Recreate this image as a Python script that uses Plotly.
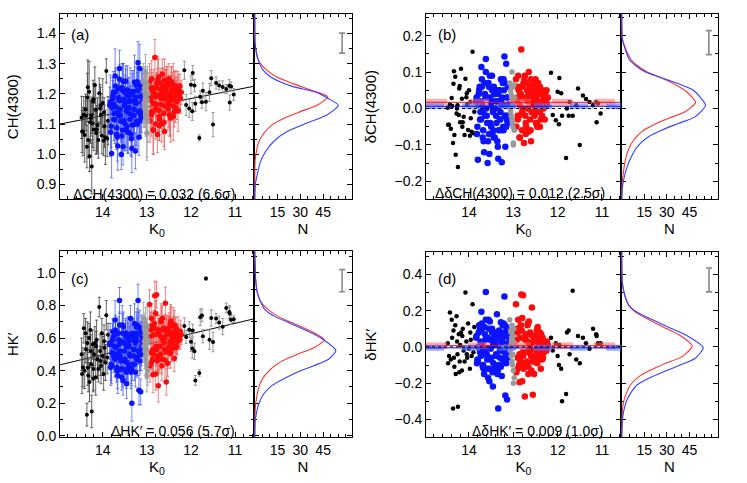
import plotly.graph_objects as go

W, H = 747, 483
FONT = "Arial, 'Liberation Sans', Helvetica, sans-serif"

# ---------------- stars: K0 and the four indices ----------------
BLK_L_K0 = [14.48, 14.45, 14.43, 14.41, 14.38, 14.36, 14.35, 14.33, 14.31, 14.30,
            14.28, 14.26, 14.25, 14.23, 14.21, 14.20, 14.18, 14.16, 14.15, 14.12,
            14.10, 14.08, 14.06, 14.04, 14.02, 14.00, 13.98, 13.96, 13.94, 13.92,
            13.90, 13.88, 14.47, 14.39, 14.34, 14.27, 14.22, 14.14, 14.05, 13.97]
BLK_L_CH = [1.122, 1.075, 1.131, 1.064, 1.127, 1.025, 1.188, 1.047, 1.207, 0.993,
            1.106, 1.129, 0.959, 1.102, 1.182, 1.082, 1.229, 1.147, 1.070, 1.097,
            1.047, 1.202, 1.151, 1.131, 1.061, 1.170, 1.045, 1.093, 1.056, 1.276,
            1.052, 1.111, 1.075, 1.149, 1.222, 1.120, 1.175, 1.082, 1.162, 1.138]
BLK_L_CH_ERR = [0.07, 0.08, 0.06, 0.09, 0.05, 0.07, 0.08, 0.06, 0.10, 0.05,
                0.07, 0.06, 0.09, 0.08, 0.05, 0.07, 0.06, 0.08, 0.07, 0.09,
                0.06, 0.05, 0.08, 0.07, 0.06, 0.08, 0.05, 0.07, 0.09, 0.04,
                0.06, 0.08, 0.07, 0.05, 0.09, 0.06, 0.07, 0.08, 0.06, 0.05]
BLK_L_DCH = [0.002, -0.045, 0.011, -0.056, 0.007, -0.095, 0.068, -0.073, 0.087, -0.127,
             -0.014, 0.009, -0.161, -0.018, 0.062, -0.038, 0.109, 0.027, -0.050, -0.023,
             -0.073, 0.082, 0.031, 0.011, -0.059, 0.050, -0.075, -0.027, -0.064, 0.156,
             -0.068, -0.009, -0.045, 0.029, 0.102, 0.000, 0.055, -0.038, 0.042, 0.018]
BLK_L_HK = [0.50, 0.42, 0.66, 0.40, 0.53, 0.13, 0.57, 0.37, 0.60, 0.33,
            0.65, 0.44, 0.15, 0.56, 0.41, 0.50, 0.57, 0.36, 0.55, 0.47,
            0.41, 0.79, 0.52, 0.43, 0.63, 0.49, 0.38, 0.54, 0.45, 0.74,
            0.48, 0.62, 0.38, 0.63, 0.42, 0.52, 0.35, 0.59, 0.46, 0.58]
BLK_L_HK_ERR = [0.10, 0.12, 0.09, 0.11, 0.08, 0.07, 0.13, 0.10, 0.09, 0.12,
                0.11, 0.08, 0.10, 0.09, 0.13, 0.07, 0.10, 0.11, 0.09, 0.12,
                0.08, 0.06, 0.10, 0.11, 0.09, 0.12, 0.10, 0.08, 0.11, 0.09,
                0.10, 0.07, 0.12, 0.09, 0.11, 0.10, 0.08, 0.12, 0.09, 0.10]
BLK_L_DHK = [0.02, -0.05, 0.19, -0.07, 0.05, -0.34, 0.09, -0.11, 0.12, -0.15,
             0.17, -0.04, -0.33, 0.07, -0.08, 0.01, 0.08, -0.13, 0.06, -0.02,
             -0.08, 0.30, 0.03, -0.06, 0.13, -0.01, -0.12, 0.04, -0.05, 0.236,
             -0.03, 0.11, -0.09, 0.15, -0.06, 0.03, -0.14, 0.10, -0.04, 0.08]

BLK_R_K0 = [12.15, 11.96, 12.00, 11.92, 12.11, 12.04, 11.90, 11.97, 11.81, 11.75, 11.66, 11.54,
            11.50, 11.43, 11.36, 11.28, 11.20, 11.13, 11.09, 11.03, 11.12, 11.58, 11.79, 11.73]
BLK_R_CH = [1.278, 1.269, 1.230, 1.228, 1.163, 1.151, 1.167, 1.142, 1.054, 1.172, 1.174, 1.252,
            1.098, 1.236, 1.228, 1.223, 1.216, 1.227, 1.224, 1.198, 1.171, 1.205, 1.190, 1.210]
BLK_R_CH_ERR = [0.03, 0.025, 0.03, 0.02, 0.035, 0.03, 0.025, 0.03, 0.01, 0.02, 0.03, 0.025,
                0.04, 0.02, 0.015, 0.02, 0.015, 0.02, 0.015, 0.02, 0.025, 0.03, 0.02, 0.025]
BLK_R_DCH = [0.098, 0.084, 0.046, 0.042, -0.018, -0.032, -0.020, -0.043, -0.136, -0.020, -0.020, 0.055,
             -0.100, 0.036, 0.026, 0.018, 0.009, 0.018, 0.014, -0.014, -0.038, 0.009, 0.000, 0.018]
BLK_R_HK = [0.674, 0.646, 0.578, 0.519, 0.606, 0.651, 0.340, 0.536, 0.386, 0.739, 0.965, 0.723,
            0.576, 0.720, 0.695, 0.670, 0.785, 0.760, 0.712, 0.716, 0.750, 0.590, 0.727, 0.611]
BLK_R_HK_ERR = [0.05, 0.04, 0.06, 0.05, 0.04, 0.05, 0.03, 0.06, 0.02, 0.04, 0.01, 0.05,
                0.06, 0.03, 0.04, 0.05, 0.03, 0.04, 0.03, 0.02, 0.04, 0.06, 0.05, 0.04]
BLK_R_DHK = [0.05, 0.01, -0.05, -0.12, -0.02, 0.02, -0.30, -0.10, -0.26, 0.09, 0.31, 0.06,
             -0.09, 0.05, 0.02, -0.01, 0.10, 0.07, 0.02, 0.02, 0.06, -0.07, 0.08, -0.04]

BLUE_K0 = [13.84, 13.80, 13.77, 13.75, 13.72, 13.70, 13.68, 13.66, 13.64, 13.62,
           13.60, 13.58, 13.56, 13.54, 13.52, 13.50, 13.48, 13.46, 13.44, 13.42,
           13.40, 13.38, 13.36, 13.34, 13.32, 13.30, 13.28, 13.26, 13.24, 13.22,
           13.20, 13.18, 13.16, 13.14, 13.12, 13.10, 13.82, 13.78, 13.74, 13.71,
           13.67, 13.63, 13.59, 13.55, 13.51, 13.47, 13.43, 13.39, 13.35, 13.31,
           13.27, 13.23, 13.19, 13.15, 13.11, 13.83, 13.76, 13.69, 13.61, 13.53,
           13.45, 13.37, 13.29, 13.21, 13.13, 13.79, 13.73, 13.65, 13.57, 13.49,
           13.41, 13.33, 13.25, 13.17, 13.12, 13.81, 13.74, 13.62, 13.55, 13.46,
           13.38, 13.30, 13.22, 13.16, 13.68, 13.58, 13.44, 13.34, 13.26, 13.19,
           13.71, 13.52, 13.40, 13.28, 13.14, 13.64, 13.48, 13.36, 13.24, 13.11]
BLUE_CH = [1.162, 1.002, 1.194, 1.115, 1.259, 1.156, 1.087, 1.027, 1.188, 1.284,
           1.129, 0.999, 1.220, 1.025, 1.181, 1.101, 1.242, 1.142, 1.213, 1.073,
           1.155, 1.116, 1.176, 1.019, 1.207, 1.128, 1.238, 1.011, 1.169, 1.100,
           1.303, 1.056, 1.284, 1.192, 1.142, 1.223, 1.073, 1.184, 1.135, 1.226,
           1.057, 1.178, 1.109, 1.210, 1.161, 1.082, 1.193, 1.135, 1.051, 1.207,
           1.178, 1.109, 1.230, 1.132, 1.173, 1.172, 1.204, 1.066, 1.149, 1.241,
           1.093, 1.176, 1.148, 1.210, 1.122, 1.154, 1.115, 1.218, 1.060, 1.172,
           1.194, 1.097, 1.189, 1.141, 1.222, 1.093, 1.165, 1.248, 1.080, 1.152,
           1.206, 1.128, 1.240, 1.111, 1.137, 1.179, 1.073, 1.197, 1.169, 1.140,
           1.206, 1.111, 1.175, 1.098, 1.192, 1.128, 1.202, 1.066, 1.229, 1.173]
BLUE_CH_ERR = [0.06, 0.08, 0.05, 0.07, 0.09, 0.06, 0.05, 0.08, 0.07, 0.06,
               0.07, 0.05, 0.08, 0.06, 0.07, 0.09, 0.05, 0.06, 0.08, 0.07,
               0.06, 0.07, 0.05, 0.08, 0.06, 0.07, 0.09, 0.06, 0.05, 0.08,
               0.07, 0.06, 0.08, 0.05, 0.07, 0.06, 0.08, 0.07, 0.05, 0.06,
               0.08, 0.06, 0.07, 0.09, 0.05, 0.07, 0.06, 0.08, 0.06, 0.07,
               0.05, 0.08, 0.06, 0.07, 0.06, 0.09, 0.07, 0.05, 0.08, 0.06,
               0.07, 0.05, 0.08, 0.06, 0.07, 0.06, 0.08, 0.07, 0.05, 0.09,
               0.06, 0.07, 0.05, 0.08, 0.06, 0.07, 0.06, 0.05, 0.08, 0.07,
               0.08, 0.06, 0.07, 0.05, 0.09, 0.06, 0.07, 0.08, 0.06, 0.05,
               0.07, 0.08, 0.06, 0.07, 0.05, 0.06, 0.08, 0.07, 0.06, 0.07]
BLUE_DCH = [0.02, -0.141, 0.05, -0.03, 0.114, 0.01, -0.06, -0.12, 0.04, 0.136,
            -0.02, -0.15, 0.07, -0.125, 0.03, -0.05, 0.09, -0.01, 0.06, -0.08,
            0.00, -0.04, 0.02, -0.138, 0.05, -0.03, 0.08, -0.148, 0.01, -0.06,
            0.143, -0.105, 0.123, 0.03, -0.02, 0.06, -0.07, 0.04, -0.01, 0.08,
            -0.09, 0.03, -0.04, 0.06, 0.01, -0.07, 0.04, -0.02, -0.105, 0.05,
            0.02, -0.05, 0.07, -0.03, 0.01, 0.03, 0.06, -0.08, 0.00, 0.09,
            -0.06, 0.02, -0.01, 0.05, -0.04, 0.01, -0.03, 0.07, -0.09, 0.02,
            0.04, -0.06, 0.03, -0.02, 0.06, -0.05, 0.02, 0.10, -0.07, 0.00,
            0.05, -0.03, 0.08, -0.05, -0.01, 0.03, -0.08, 0.04, 0.01, -0.02,
            0.06, -0.04, 0.02, -0.06, 0.03, -0.02, 0.05, -0.09, 0.07, 0.01]
BLUE_HK = [0.56, 0.43, 0.64, 0.49, 0.71, 0.54, 0.42, 0.37, 0.59, 0.83,
           0.49, 0.41, 0.68, 0.34, 0.57, 0.47, 0.63, 0.32, 0.62, 0.43,
           0.55, 0.49, 0.60, 0.20, 0.63, 0.53, 0.69, 0.39, 0.58, 0.48,
           0.83, 0.28, 0.66, 0.27, 0.53, 0.61, 0.42, 0.59, 0.50, 0.65,
           0.40, 0.56, 0.46, 0.63, 0.52, 0.39, 0.60, 0.50, 0.41, 0.62,
           0.58, 0.47, 0.67, 0.50, 0.58, 0.57, 0.61, 0.41, 0.52, 0.67,
           0.45, 0.72, 0.53, 0.63, 0.50, 0.51, 0.47, 0.63, 0.36, 0.57,
           0.61, 0.44, 0.60, 0.51, 0.65, 0.44, 0.55, 0.68, 0.41, 0.55,
           0.62, 0.49, 0.68, 0.46, 0.50, 0.58, 0.41, 0.60, 0.57, 0.52,
           0.62, 0.46, 0.58, 0.44, 0.62, 0.48, 0.61, 0.39, 0.67, 0.55]
BLUE_HK_ERR = [0.09, 0.11, 0.08, 0.10, 0.12, 0.09, 0.07, 0.11, 0.10, 0.08,
               0.10, 0.08, 0.12, 0.09, 0.10, 0.13, 0.08, 0.09, 0.11, 0.10,
               0.09, 0.10, 0.08, 0.11, 0.09, 0.10, 0.12, 0.09, 0.08, 0.11,
               0.10, 0.09, 0.11, 0.08, 0.10, 0.09, 0.11, 0.10, 0.08, 0.09,
               0.11, 0.09, 0.10, 0.12, 0.08, 0.10, 0.09, 0.11, 0.09, 0.10,
               0.08, 0.11, 0.09, 0.10, 0.09, 0.12, 0.10, 0.08, 0.11, 0.09,
               0.10, 0.08, 0.11, 0.09, 0.10, 0.09, 0.11, 0.10, 0.08, 0.12,
               0.09, 0.10, 0.08, 0.11, 0.09, 0.10, 0.09, 0.08, 0.11, 0.10,
               0.11, 0.09, 0.10, 0.08, 0.12, 0.09, 0.10, 0.11, 0.09, 0.08,
               0.10, 0.11, 0.09, 0.10, 0.08, 0.09, 0.11, 0.10, 0.09, 0.10]
BLUE_DHK = [0.05, -0.08, 0.12, -0.03, 0.194, 0.02, -0.10, -0.15, 0.07, 0.303,
            -0.04, -0.12, 0.15, -0.19, 0.04, -0.06, 0.10, -0.219, 0.08, -0.11,
            0.01, -0.05, 0.06, -0.34, 0.09, -0.02, 0.136, -0.16, 0.03, -0.07,
            0.278, -0.268, 0.11, -0.29, -0.03, 0.05, -0.09, 0.08, -0.02, 0.13,
            -0.12, 0.04, -0.07, 0.10, -0.01, -0.14, 0.06, -0.04, -0.13, 0.07,
            0.03, -0.08, 0.12, -0.05, 0.02, 0.06, 0.09, -0.11, -0.01, 0.14,
            -0.09, 0.18, -0.02, 0.08, -0.06, 0.00, -0.05, 0.11, -0.17, 0.04,
            0.07, -0.10, 0.05, -0.04, 0.09, -0.07, 0.03, 0.15, -0.12, 0.01,
            0.08, -0.06, 0.13, -0.09, -0.02, 0.05, -0.13, 0.06, 0.02, -0.03,
            0.10, -0.07, 0.04, -0.11, 0.06, -0.04, 0.08, -0.15, 0.12, -0.01]

GRAY_K0 = [13.08, 13.06, 13.05, 13.04, 13.03, 13.02, 13.01, 13.00, 12.99, 12.98,
           13.07, 13.05, 13.03, 13.02, 13.00, 12.99, 13.06, 13.04, 13.01, 12.97]
GRAY_CH = [1.24, 1.22, 1.15, 1.20, 1.27, 1.13, 1.23, 1.07, 1.18, 1.11,
           1.17, 1.21, 1.14, 1.19, 1.07, 1.23, 1.16, 1.23, 1.12, 1.20]
GRAY_CH_ERR = [0.06, 0.07, 0.05, 0.08, 0.06, 0.07, 0.05, 0.09, 0.06, 0.07,
               0.08, 0.06, 0.05, 0.07, 0.08, 0.06, 0.07, 0.05, 0.06, 0.07]
GRAY_DCH = [0.07, 0.05, -0.02, 0.03, 0.10, -0.04, 0.06, -0.10, 0.01, -0.06,
            0.00, 0.04, -0.03, 0.02, -0.095, 0.065, -0.01, 0.06, -0.05, 0.03]
GRAY_HK = [0.72, 0.66, 0.52, 0.60, 0.69, 0.47, 0.63, 0.37, 0.57, 0.40,
           0.55, 0.65, 0.49, 0.61, 0.44, 0.67, 0.58, 0.62, 0.53, 0.59]
GRAY_HK_ERR = [0.10, 0.09, 0.11, 0.08, 0.10, 0.12, 0.09, 0.10, 0.11, 0.09,
               0.10, 0.08, 0.11, 0.10, 0.09, 0.12, 0.10, 0.09, 0.11, 0.10]
GRAY_DHK = [0.15, 0.09, -0.05, 0.03, 0.12, -0.10, 0.06, -0.20, 0.00, -0.17,
            -0.02, 0.08, -0.08, 0.04, -0.13, 0.10, 0.01, 0.05, -0.04, 0.02]

RED_K0 = [12.94, 12.92, 12.90, 12.88, 12.86, 12.84, 12.82, 12.80, 12.78, 12.76,
          12.74, 12.72, 12.70, 12.68, 12.66, 12.64, 12.62, 12.60, 12.58, 12.56,
          12.54, 12.52, 12.50, 12.48, 12.46, 12.44, 12.42, 12.40, 12.38, 12.36,
          12.34, 12.32, 12.30, 12.28, 12.26, 12.24, 12.22, 12.93, 12.89, 12.85,
          12.81, 12.77, 12.73, 12.69, 12.65, 12.61, 12.57, 12.53, 12.49, 12.45,
          12.41, 12.37, 12.33, 12.29, 12.25, 12.91, 12.87, 12.83, 12.79, 12.75,
          12.71, 12.67, 12.63, 12.59, 12.55, 12.51, 12.47, 12.43, 12.39, 12.35,
          12.92, 12.86, 12.80, 12.74, 12.68, 12.62, 12.56, 12.50, 12.44, 12.38,
          12.90, 12.84, 12.78, 12.72, 12.66, 12.60, 12.52, 12.46, 12.40, 12.31]
RED_CH = [1.24, 1.18, 1.13, 1.21, 1.08, 1.20, 1.32, 1.15, 1.22, 1.065,
          1.195, 1.125, 1.235, 1.165, 1.10, 1.215, 1.185, 1.075, 1.21, 1.18,
          1.23, 1.15, 1.25, 1.20, 1.12, 1.21, 1.18, 1.23, 1.14, 1.195,
          1.225, 1.175, 1.205, 1.215, 1.195, 1.185, 1.205, 1.11, 1.25, 1.08,
          1.19, 1.235, 1.145, 1.215, 1.265, 1.105, 1.20, 1.18, 1.13, 1.23,
          1.16, 1.215, 1.195, 1.145, 1.225, 1.22, 1.14, 1.20, 1.165, 1.245,
          1.115, 1.195, 1.225, 1.16, 1.24, 1.19, 1.13, 1.22, 1.185, 1.155,
          1.19, 1.17, 1.10, 1.255, 1.185, 1.135, 1.22, 1.17, 1.24, 1.215,
          1.14, 1.22, 1.195, 1.095, 1.205, 1.245, 1.16, 1.19, 1.125, 1.205]
RED_CH_ERR = [0.06, 0.05, 0.07, 0.06, 0.08, 0.05, 0.06, 0.07, 0.05, 0.06,
              0.07, 0.06, 0.05, 0.08, 0.06, 0.07, 0.05, 0.06, 0.07, 0.05,
              0.06, 0.07, 0.05, 0.06, 0.08, 0.05, 0.06, 0.07, 0.05, 0.06,
              0.05, 0.06, 0.07, 0.05, 0.04, 0.05, 0.04, 0.07, 0.06, 0.08,
              0.06, 0.05, 0.07, 0.06, 0.05, 0.08, 0.06, 0.05, 0.07, 0.06,
              0.05, 0.06, 0.05, 0.07, 0.04, 0.06, 0.07, 0.05, 0.06, 0.08,
              0.07, 0.05, 0.06, 0.08, 0.05, 0.06, 0.07, 0.05, 0.06, 0.05,
              0.06, 0.07, 0.05, 0.06, 0.07, 0.05, 0.06, 0.08, 0.05, 0.06,
              0.05, 0.06, 0.07, 0.05, 0.06, 0.07, 0.05, 0.06, 0.08, 0.05]
RED_DCH = [0.08, 0.02, -0.03, 0.05, -0.08, 0.04, 0.162, -0.01, 0.06, -0.095,
           0.03, -0.04, 0.07, 0.00, -0.064, 0.05, 0.02, -0.09, 0.04, 0.01,
           0.06, -0.02, 0.08, 0.03, -0.05, 0.04, 0.01, 0.06, -0.03, 0.02,
           0.05, 0.00, 0.03, 0.04, 0.02, 0.01, 0.03, -0.05, 0.09, -0.08,
           0.03, 0.07, -0.02, 0.05, 0.10, -0.06, 0.03, 0.01, -0.04, 0.06,
           -0.01, 0.04, 0.02, -0.03, 0.05, 0.06, -0.02, 0.04, 0.00, 0.08,
           -0.05, 0.03, 0.06, -0.01, 0.07, 0.02, -0.04, 0.05, 0.01, -0.02,
           0.03, 0.01, -0.06, 0.09, 0.02, -0.03, 0.05, 0.00, 0.07, 0.04,
           -0.02, 0.06, 0.03, -0.07, 0.04, 0.08, -0.01, 0.02, -0.05, 0.03]
RED_HK = [0.806, 0.61, 0.51, 0.67, 0.375, 0.62, 0.86, 0.38, 0.865, 0.49,
          0.307, 0.65, 0.55, 0.70, 0.47, 0.60, 0.66, 0.53, 0.813, 0.331,
          0.625, 0.515, 0.655, 0.575, 0.695, 0.535, 0.605, 0.635, 0.475, 0.63,
          0.66, 0.58, 0.63, 0.61, 0.60, 0.64, 0.62, 0.43, 0.72, 0.50,
          0.66, 0.46, 0.62, 0.50, 0.72, 0.57, 0.655, 0.445, 0.625, 0.705,
          0.555, 0.68, 0.55, 0.63, 0.59, 0.65, 0.47, 0.69, 0.55, 0.63,
          0.49, 0.71, 0.58, 0.465, 0.655, 0.545, 0.685, 0.585, 0.635, 0.54,
          0.67, 0.53, 0.75, 0.47, 0.61, 0.65, 0.515, 0.645, 0.575, 0.605,
          0.45, 0.66, 0.53, 0.62, 0.43, 0.60, 0.655, 0.505, 0.675, 0.58]
RED_HK_ERR = [0.09, 0.08, 0.10, 0.09, 0.11, 0.08, 0.09, 0.10, 0.08, 0.09,
              0.10, 0.09, 0.08, 0.11, 0.09, 0.10, 0.08, 0.09, 0.10, 0.08,
              0.09, 0.10, 0.08, 0.09, 0.11, 0.08, 0.09, 0.10, 0.08, 0.09,
              0.07, 0.08, 0.06, 0.07, 0.06, 0.07, 0.06, 0.10, 0.09, 0.11,
              0.09, 0.08, 0.10, 0.09, 0.08, 0.11, 0.09, 0.08, 0.10, 0.09,
              0.08, 0.09, 0.07, 0.10, 0.06, 0.09, 0.10, 0.08, 0.09, 0.11,
              0.10, 0.08, 0.09, 0.11, 0.08, 0.09, 0.10, 0.08, 0.09, 0.08,
              0.09, 0.10, 0.08, 0.09, 0.10, 0.08, 0.09, 0.11, 0.08, 0.09,
              0.08, 0.09, 0.10, 0.08, 0.09, 0.10, 0.08, 0.09, 0.11, 0.08]
RED_DHK = [0.236, 0.04, -0.06, 0.10, -0.195, 0.05, 0.29, -0.19, 0.285, -0.09,
           -0.273, 0.07, -0.03, 0.12, -0.11, 0.02, 0.08, -0.05, 0.218, -0.264,
           0.03, -0.08, 0.06, -0.02, 0.10, -0.06, 0.01, 0.04, -0.12, 0.02,
           0.05, -0.03, 0.02, 0.00, -0.01, 0.03, 0.01, -0.14, 0.15, -0.07,
           0.09, -0.12, 0.04, -0.08, 0.14, -0.02, 0.06, -0.15, 0.03, 0.11,
           -0.04, 0.07, -0.06, 0.02, -0.02, 0.08, -0.10, 0.12, -0.03, 0.05,
           -0.09, 0.13, 0.00, -0.13, 0.06, -0.05, 0.09, -0.01, 0.04, -0.07,
           0.10, -0.04, 0.16, -0.11, 0.03, 0.07, -0.08, 0.05, -0.02, 0.01,
           -0.12, 0.09, -0.05, 0.04, -0.15, 0.02, 0.06, -0.09, 0.08, -0.03]

# linear fits drawn in (a) and (c)
FIT_K0 = [14.97, 10.57]
FIT_CH = [1.100, 1.225]
FIT_HK = [0.436, 0.718]

# mean levels of the two groups in (b) and (d)
MEAN_DCH = {"red": 0.017, "blue": 0.006}
MEAN_DHK = {"red": 0.007, "blue": -0.005}

# distribution curves in the side panels: index value vs N
CH_HIST_BLUE_Y = [1.465, 1.370, 1.337, 1.304, 1.282, 1.260, 1.239, 1.223, 1.206, 1.184, 1.162,
                  1.146, 1.130, 1.103, 1.075, 1.043, 1.010, 0.977, 0.934, 0.901, 0.850]
CH_HIST_BLUE_N = [0, 0.2, 1.1, 2.8, 5.0, 9.4, 17.0, 25.7, 39.9, 48.6, 55.1,
                  52.0, 47.5, 34.4, 21.3, 12.6, 7.2, 3.9, 1.7, 0.4, 0]
CH_HIST_RED_Y = [1.465, 1.370, 1.348, 1.320, 1.299, 1.277, 1.255, 1.233, 1.211, 1.190,
                 1.162, 1.141, 1.119, 1.097, 1.070, 1.043, 1.010, 0.977, 0.850]
CH_HIST_RED_N = [0, 0.2, 0.65, 1.7, 3.9, 8.3, 14.8, 25.7, 37.7, 48.1,
                 41.0, 30.0, 19.2, 11.5, 6.1, 2.8, 1.1, 0.2, 0]
DCH_HIST_BLUE_Y = [0.26, 0.191, 0.164, 0.136, 0.118, 0.100, 0.087, 0.068, 0.050, 0.009,
                   -0.023, -0.041, -0.059, -0.077, -0.100, -0.127, -0.159, -0.191, -0.218, -0.25]
DCH_HIST_BLUE_N = [0, 0.4, 2.2, 4.8, 9.2, 15.8, 24.6, 37.7, 47.6, 55.7,
                   48.7, 37.7, 26.8, 18.0, 11.4, 7.0, 3.7, 1.5, 0.4, 0]
DCH_HIST_RED_Y = [0.26, 0.191, 0.164, 0.136, 0.118, 0.100, 0.085, 0.066, 0.046, 0.016,
                  -0.009, -0.027, -0.045, -0.063, -0.086, -0.109, -0.145, -0.182, -0.209, -0.25]
DCH_HIST_RED_N = [0, 0.4, 2.6, 5.9, 10.3, 16.9, 25.7, 35.5, 43.2, 49.1,
                  42.1, 31.1, 21.3, 13.6, 8.1, 4.8, 2.2, 0.9, 0.2, 0]
HK_HIST_BLUE_Y = [1.135, 0.960, 0.880, 0.820, 0.770, 0.730, 0.690, 0.640, 0.590, 0.524,
                  0.470, 0.430, 0.390, 0.350, 0.310, 0.260, 0.200, 0.140, 0.080, -0.01]
HK_HIST_BLUE_N = [0, 0.65, 1.7, 3.9, 7.2, 13.7, 23.5, 35.5, 45.3, 53.4,
                  48.6, 38.8, 27.9, 19.2, 11.5, 6.1, 2.8, 1.1, 0.2, 0]
HK_HIST_RED_Y = [1.135, 0.940, 0.860, 0.810, 0.770, 0.730, 0.690, 0.644, 0.590,
                 0.540, 0.500, 0.460, 0.410, 0.350, 0.280, 0.200, 0.140, -0.01]
HK_HIST_RED_N = [0, 0.65, 2.2, 5.0, 9.4, 15.9, 25.7, 36.6, 45.8,
                 38.8, 27.9, 18.1, 10.5, 5.0, 2.2, 0.65, 0.2, 0]
DHK_HIST_BLUE_Y = [0.525, 0.354, 0.282, 0.227, 0.191, 0.155, 0.109, 0.063, -0.004,
                   -0.064, -0.100, -0.137, -0.173, -0.209, -0.255, -0.300, -0.355, -0.410, -0.5]
DHK_HIST_BLUE_N = [0, 0.4, 2.2, 4.8, 10.3, 19.1, 31.1, 43.2, 54.2,
                   48.7, 38.8, 27.9, 18.0, 10.3, 5.9, 3.1, 1.3, 0.4, 0]
DHK_HIST_RED_Y = [0.525, 0.354, 0.282, 0.236, 0.191, 0.155, 0.109, 0.063, 0.005,
                  -0.055, -0.091, -0.128, -0.164, -0.209, -0.255, -0.300, -0.355, -0.5]
DHK_HIST_RED_N = [0, 0.4, 2.0, 4.4, 9.2, 16.9, 27.9, 38.8, 46.9,
                  39.9, 28.9, 19.1, 11.4, 5.9, 3.1, 1.3, 0.4, 0]

# typical error bar shown in each side panel: (N position, centre, half length)
TYP_ERR = {"a": (57.5, 1.368, 0.033), "b": (57.9, 0.181, 0.033),
           "c": (57.5, 0.952, 0.068), "d": (58.0, 0.370, 0.066)}

NOTES = {"a": "ΔCH(4300) = 0.032 (6.6σ)", "b": "ΔδCH(4300) = 0.012 (2.5σ)",
         "c": "ΔHK′ = 0.056 (5.7σ)", "d": "ΔδHK′ = 0.009 (1.0σ)"}

K0_RANGE = [14.97, 10.57]
N_RANGE = [-0.5, 64]

BLUE = "#0a14ff"
RED = "#ff0a0a"
GRAY = "#9a9a9a"

GROUPS = [
    dict(k0=BLK_L_K0, color="black", ecolor="rgba(70,70,70,0.85)", size=(4, 4.5),
         vals={"a": (BLK_L_CH, BLK_L_CH_ERR), "b": (BLK_L_DCH, None),
               "c": (BLK_L_HK, BLK_L_HK_ERR), "d": (BLK_L_DHK, None)}),
    dict(k0=BLK_R_K0, color="black", ecolor="rgba(140,140,140,0.9)", size=(4, 4.5),
         vals={"a": (BLK_R_CH, BLK_R_CH_ERR), "b": (BLK_R_DCH, None),
               "c": (BLK_R_HK, BLK_R_HK_ERR), "d": (BLK_R_DHK, None)}),
    dict(k0=BLUE_K0, color=BLUE, ecolor="rgba(60,80,255,0.7)", size=(5.5, 6.5),
         vals={"a": (BLUE_CH, BLUE_CH_ERR), "b": (BLUE_DCH, None),
               "c": (BLUE_HK, BLUE_HK_ERR), "d": (BLUE_DHK, None)}),
    dict(k0=RED_K0, color=RED, ecolor="rgba(235,80,80,0.7)", size=(5.5, 6.5),
         vals={"a": (RED_CH, RED_CH_ERR), "b": (RED_DCH, None),
               "c": (RED_HK, RED_HK_ERR), "d": (RED_DHK, None)}),
    dict(k0=GRAY_K0, color=GRAY, ecolor="rgba(160,160,160,0.85)", size=(5, 5.5),
         vals={"a": (GRAY_CH, GRAY_CH_ERR), "b": (GRAY_DCH, None),
               "c": (GRAY_HK, GRAY_HK_ERR), "d": (GRAY_DHK, None)}),
]

# pixel boxes: scatter x, side panel x, y (top, bottom)
PANELS = [
    dict(id="a", sx=(60, 254), hx=(254, 352), y=(14, 202), yr=[0.85, 1.465], dt=0.1, mdt=0.05,
         title="CH(4300)", fit=FIT_CH, means=None, label=(80, 35), note=(237, 196),
         hist=(CH_HIST_BLUE_Y, CH_HIST_BLUE_N, CH_HIST_RED_Y, CH_HIST_RED_N)),
    dict(id="b", sx=(426, 621), hx=(621, 718), y=(14, 202), yr=[-0.25, 0.26], dt=0.1, mdt=0.05,
         title="δCH(4300)", fit=None, means=MEAN_DCH, label=(447, 35), note=(607, 195),
         hist=(DCH_HIST_BLUE_Y, DCH_HIST_BLUE_N, DCH_HIST_RED_Y, DCH_HIST_RED_N)),
    dict(id="c", sx=(60, 254), hx=(254, 352), y=(254, 443), yr=[-0.01, 1.135], dt=0.2, mdt=0.1,
         title="HK′", fit=FIT_HK, means=None, label=(80, 282), note=(237, 436),
         hist=(HK_HIST_BLUE_Y, HK_HIST_BLUE_N, HK_HIST_RED_Y, HK_HIST_RED_N)),
    dict(id="d", sx=(426, 621), hx=(621, 718), y=(255, 443), yr=[-0.5, 0.525], dt=0.2, mdt=0.1,
         title="δHK′", fit=None, means=MEAN_DHK, label=(447, 282), note=(606, 436),
         hist=(DHK_HIST_BLUE_Y, DHK_HIST_BLUE_N, DHK_HIST_RED_Y, DHK_HIST_RED_N)),
]


def dx(a, b):
    return [a / W, b / W]


def dy(top, bottom):
    return [1 - bottom / H, 1 - top / H]


def suffix(n):
    return "" if n == 1 else str(n)


AX = dict(showline=True, linecolor="black", linewidth=1, mirror="allticks",
          ticks="inside", ticklen=5, tickwidth=1, tickcolor="black",
          showgrid=False, zeroline=False, fixedrange=True,
          tickfont=dict(family=FONT, size=14, color="black"))


def minor(dtick):
    return dict(ticks="inside", ticklen=3, tickwidth=1, tickcolor="black",
                dtick=dtick, tick0=0, showgrid=False)


fig = go.Figure()
layout = {}
shapes = []
annotations = []

for i, p in enumerate(PANELS):
    ns, nh = 2 * i + 1, 2 * i + 2
    xs, ys = "x" + suffix(ns), "y" + suffix(ns)
    xh, yh = "x" + suffix(nh), "y" + suffix(nh)
    err_panel = p["means"] is None

    layout["xaxis" + suffix(ns)] = dict(
        AX, domain=dx(*p["sx"]), anchor=ys, range=K0_RANGE, dtick=1, tick0=0,
        minor=minor(0.2),
        title=dict(text="K<sub>0</sub>", standoff=2, font=dict(family=FONT, size=15, color="black")))
    layout["yaxis" + suffix(ns)] = dict(
        AX, domain=dy(*p["y"]), anchor=xs, range=p["yr"], dtick=p["dt"], tick0=0,
        tickformat=".1f", minor=minor(p["mdt"]),
        title=dict(text=p["title"], standoff=14, font=dict(family=FONT, size=15, color="black")))
    layout["xaxis" + suffix(nh)] = dict(
        AX, domain=dx(*p["hx"]), anchor=yh, range=N_RANGE,
        tickmode="array", tickvals=[15, 30, 45], minor=minor(5), layer="below traces",
        title=dict(text="N", standoff=2, font=dict(family=FONT, size=15, color="black")))
    layout["yaxis" + suffix(nh)] = dict(
        AX, domain=dy(*p["y"]), anchor=xh, range=p["yr"], dtick=p["dt"], tick0=0,
        showticklabels=False, minor=minor(p["mdt"]), layer="below traces")

    if p["fit"] is not None:
        fig.add_trace(go.Scatter(x=FIT_K0, y=p["fit"], mode="lines",
                                 line=dict(color="black", width=1),
                                 xaxis=xs, yaxis=ys, hoverinfo="skip"))

    for g in GROUPS:
        vals, errs = g["vals"][p["id"]]
        tr = dict(x=g["k0"], y=vals, mode="markers", xaxis=xs, yaxis=ys,
                  marker=dict(color=g["color"], size=g["size"][0 if err_panel else 1],
                              line=dict(width=0)))
        if errs is not None:
            tr["error_y"] = dict(type="data", array=errs, color=g["ecolor"],
                                 thickness=1, width=1.5)
        fig.add_trace(go.Scatter(**tr))

    if p["means"] is not None:
        xref = xs + " domain"
        for name, band, thin, width in (("red", "rgba(255,110,110,0.55)", RED, 7),
                                        ("blue", "rgba(90,120,255,0.6)", BLUE, 6)):
            y0 = p["means"][name]
            shapes.append(dict(type="line", xref=xref, yref=ys, x0=0, x1=1, y0=y0, y1=y0,
                               line=dict(color=band, width=width, dash="dash")))
            shapes.append(dict(type="line", xref=xref, yref=ys, x0=0, x1=1, y0=y0, y1=y0,
                               line=dict(color=thin, width=1)))
        shapes.append(dict(type="line", xref=xref, yref=ys, x0=0, x1=1, y0=0, y1=0,
                           line=dict(color="black", width=1, dash="dot")))

    by, bn, ry, rn = p["hist"]
    fig.add_trace(go.Scatter(x=rn, y=ry, mode="lines", xaxis=xh, yaxis=yh,
                             line=dict(color="#ff3030", width=1.1, shape="spline", smoothing=0.6)))
    fig.add_trace(go.Scatter(x=bn, y=by, mode="lines", xaxis=xh, yaxis=yh,
                             line=dict(color="#3340ff", width=1.1, shape="spline", smoothing=0.6)))
    en, ec, eh = TYP_ERR[p["id"]]
    fig.add_trace(go.Scatter(x=[en], y=[ec], mode="markers", xaxis=xh, yaxis=yh,
                             marker=dict(size=1, color="#8a8a8a"),
                             error_y=dict(type="data", array=[eh], color="#8a8a8a",
                                          thickness=1.6, width=3)))

    lx, ly = p["label"]
    annotations.append(dict(text="(" + p["id"] + ")", xref="paper", yref="paper",
                            x=lx / W, y=1 - ly / H, xanchor="center", yanchor="middle",
                            showarrow=False, font=dict(family=FONT, size=15, color="black")))
    tx, ty = p["note"]
    annotations.append(dict(text=NOTES[p["id"]], xref="paper", yref="paper",
                            x=tx / W, y=1 - ty / H, xanchor="right", yanchor="middle",
                            showarrow=False, font=dict(family=FONT, size=14, color="black")))

fig.update_layout(
    width=W, height=H,
    margin=dict(l=0, r=0, t=0, b=0),
    paper_bgcolor="white", plot_bgcolor="white",
    showlegend=False,
    font=dict(family=FONT, size=14, color="black"),
    shapes=shapes, annotations=annotations,
    **layout,
)

# the page's default body margin would push the fixed-size figure off its frame
fig.write_html("out.html", config={"displayModeBar": False},
               post_script="document.body.style.margin = '0px';")
